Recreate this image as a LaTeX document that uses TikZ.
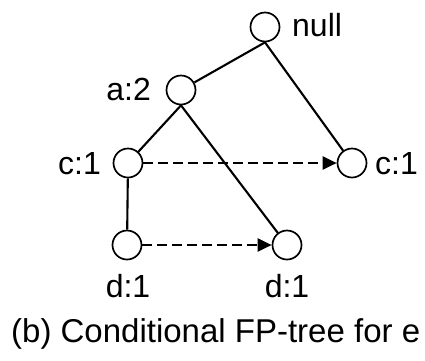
\documentclass[tikz,border=0pt]{standalone}
\usepackage{fontspec}
\setmainfont{Liberation Sans}
\usetikzlibrary{arrows.meta}
\begin{document}
\begin{tikzpicture}[x=1pt,y=-1pt,
  treenode/.style={circle,draw,line width=1.7pt,minimum size=29pt,inner sep=0pt},
  edge/.style={line width=2.1pt},
  link/.style={line width=2.2pt,dash pattern=on 10pt off 5pt,-{Triangle[length=14pt,width=13pt]}},
  lbl/.style={font=\fontsize{32}{36}\selectfont,inner sep=0pt},
  caption/.style={font=\fontsize{33}{38}\selectfont,inner sep=0pt}]
\useasboundingbox (0,0) rectangle (425,360);
% tree nodes
\node[treenode] (root) at (265,27) {};
\node[treenode] (a2) at (181,90) {};
\node[treenode] (c1l) at (128,163) {};
\node[treenode] (c1r) at (352,163) {};
\node[treenode] (d1l) at (127,245) {};
\node[treenode] (d1r) at (287,245) {};
% item:count labels
\node[lbl,anchor=west] (troot) at (292,25) {null};
\node[lbl,anchor=east] (ta2) at (151,89) {a:2};
\node[lbl,anchor=east] (tc1l) at (101,164) {c:1};
\node[lbl,anchor=west] (tc1r) at (375,164) {c:1};
\node[lbl,anchor=north] (td1l) at (128,274) {d:1};
\node[lbl,anchor=north] (td1r) at (287,274) {d:1};
\node[caption,anchor=west] (cap) at (11,334) {(b) Conditional FP-tree for e};
% tree edges
\draw[edge] (root.south) -- (a2);
\draw[edge] (root.south) -- (c1r);
\draw[edge] (a2.south) -- (c1l);
\draw[edge] (a2.south) -- (d1r);
\draw[edge] (c1l) -- (d1l);
% node links between equal items
\draw[link] (c1l) -- (c1r);
\draw[link] (d1l) -- (d1r);
\end{tikzpicture}
\end{document}
